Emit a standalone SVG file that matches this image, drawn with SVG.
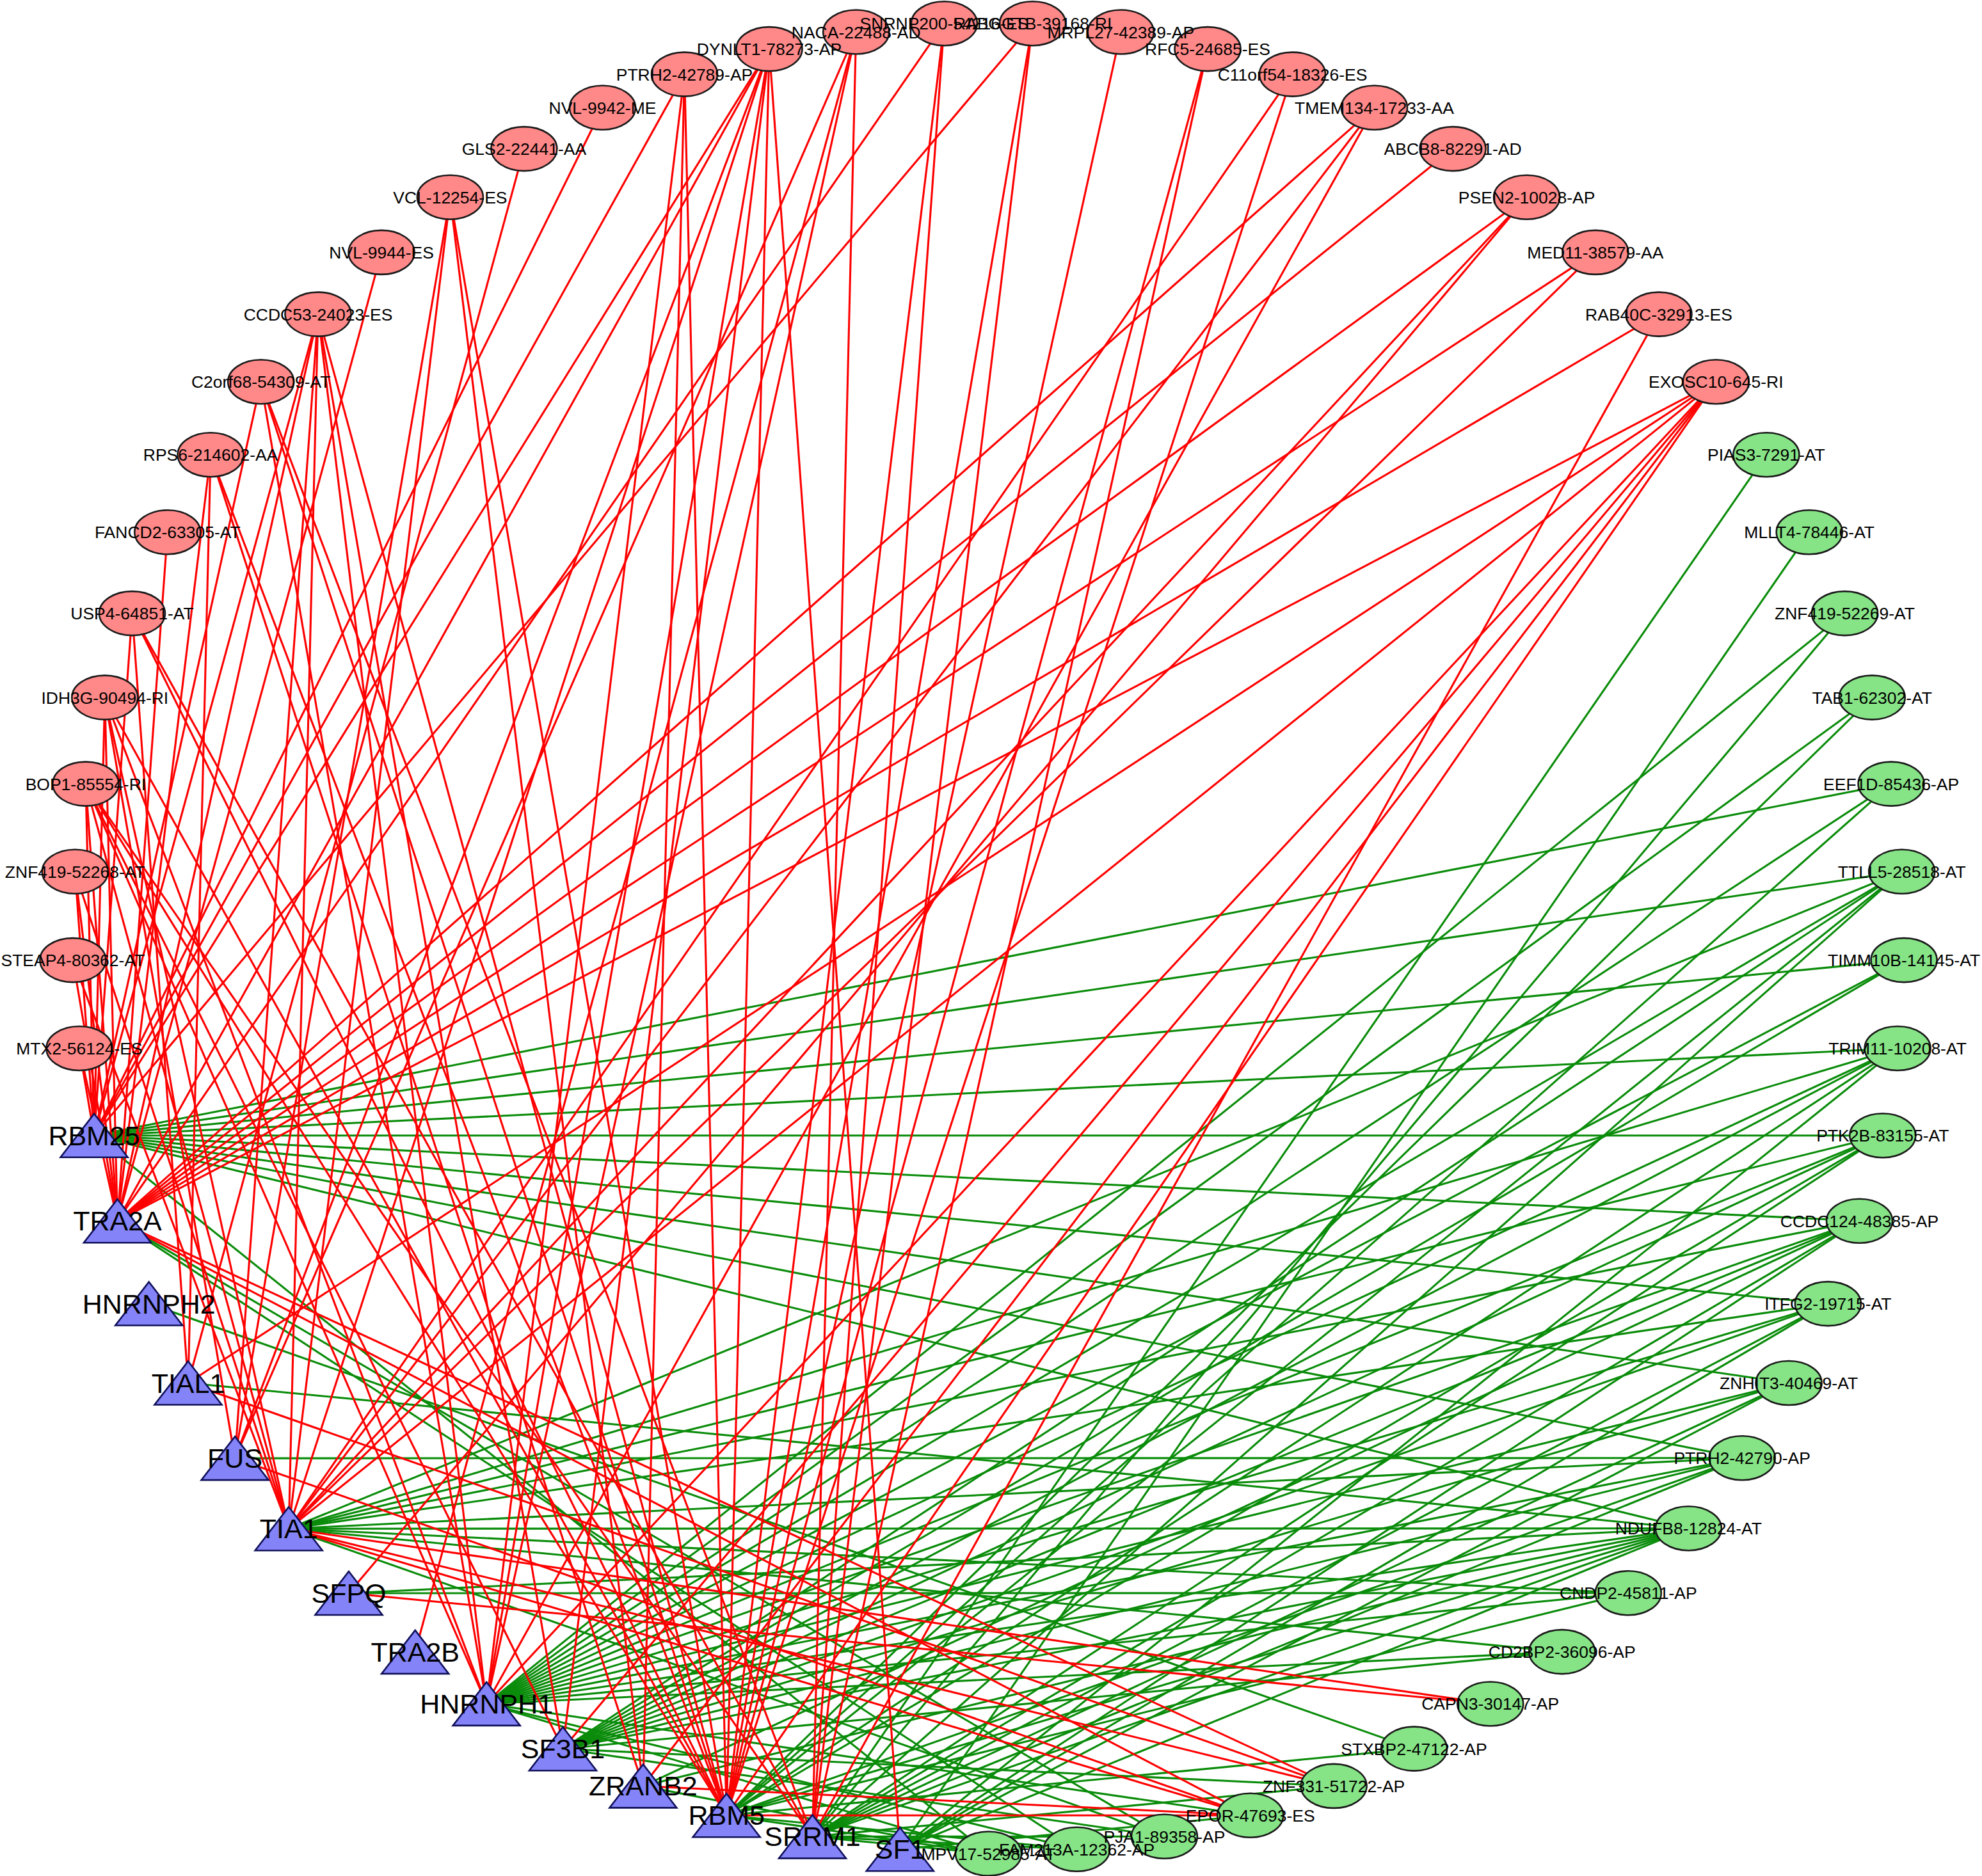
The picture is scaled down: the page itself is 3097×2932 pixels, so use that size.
<svg xmlns="http://www.w3.org/2000/svg" xmlns:xlink="http://www.w3.org/1999/xlink" width="3097" height="2932" viewBox="0 0 3097 2932">
<style>
.r{stroke:#ff0000;stroke-width:3.1;fill:none}
.g{stroke:#0a8c0a;stroke-width:3.1;fill:none}
.er{fill:#ff8888;stroke:#1a1a1a;stroke-width:2.6}
.eg{fill:#86e486;stroke:#1a1a1a;stroke-width:2.6}
.tr{fill:#8484f8;stroke:#10105a;stroke-width:2.6}
.lt{font-family:"Liberation Sans",Arial,sans-serif;font-size:26.5px;fill:#000;text-anchor:middle}
.tt{font-family:"Liberation Sans",Arial,sans-serif;font-size:43px;fill:#000;text-anchor:middle}
</style>
<defs>
<polygon id="tri" points="0,-34 52.5,34 -52.5,34"/>
</defs>
<rect width="3097" height="2932" fill="#fff"/>
<g id="connectors">
<g id="green-edges">
<line class="g" x1="2759.9" y1="710.8" x2="1269.5" y2="2870.4"/>
<line class="g" x1="2827.2" y1="831.8" x2="1406.3" y2="2890.3"/>
<line class="g" x1="2882.5" y1="958.6" x2="760.2" y2="2662.9"/>
<line class="g" x1="2882.5" y1="958.6" x2="1269.5" y2="2870.4"/>
<line class="g" x1="2925.2" y1="1090.1" x2="760.2" y2="2662.9"/>
<line class="g" x1="2925.2" y1="1090.1" x2="1135.2" y2="2837.2"/>
<line class="g" x1="2955.1" y1="1225.1" x2="147.1" y2="1774.7"/>
<line class="g" x1="2955.1" y1="1225.1" x2="760.2" y2="2662.9"/>
<line class="g" x1="2955.1" y1="1225.1" x2="1135.2" y2="2837.2"/>
<line class="g" x1="2971.7" y1="1362.3" x2="147.1" y2="1774.7"/>
<line class="g" x1="2971.7" y1="1362.3" x2="451.2" y2="2389.2"/>
<line class="g" x1="2971.7" y1="1362.3" x2="760.2" y2="2662.9"/>
<line class="g" x1="2971.7" y1="1362.3" x2="879.5" y2="2733.2"/>
<line class="g" x1="2971.7" y1="1362.3" x2="1135.2" y2="2837.2"/>
<line class="g" x1="2971.7" y1="1362.3" x2="1269.5" y2="2870.4"/>
<line class="g" x1="2975.1" y1="1500.6" x2="147.1" y2="1774.7"/>
<line class="g" x1="2975.1" y1="1500.6" x2="760.2" y2="2662.9"/>
<line class="g" x1="2975.1" y1="1500.6" x2="879.5" y2="2733.2"/>
<line class="g" x1="2965.1" y1="1638.5" x2="147.1" y2="1774.7"/>
<line class="g" x1="2965.1" y1="1638.5" x2="451.2" y2="2389.2"/>
<line class="g" x1="2965.1" y1="1638.5" x2="760.2" y2="2662.9"/>
<line class="g" x1="2965.1" y1="1638.5" x2="879.5" y2="2733.2"/>
<line class="g" x1="2965.1" y1="1638.5" x2="1135.2" y2="2837.2"/>
<line class="g" x1="2965.1" y1="1638.5" x2="1406.3" y2="2890.3"/>
<line class="g" x1="2941.8" y1="1774.8" x2="147.1" y2="1774.7"/>
<line class="g" x1="2941.8" y1="1774.8" x2="451.2" y2="2389.2"/>
<line class="g" x1="2941.8" y1="1774.8" x2="760.2" y2="2662.9"/>
<line class="g" x1="2941.8" y1="1774.8" x2="879.5" y2="2733.2"/>
<line class="g" x1="2941.8" y1="1774.8" x2="1135.2" y2="2837.2"/>
<line class="g" x1="2941.8" y1="1774.8" x2="1269.5" y2="2870.4"/>
<line class="g" x1="2905.5" y1="1908.2" x2="147.1" y2="1774.7"/>
<line class="g" x1="2905.5" y1="1908.2" x2="451.2" y2="2389.2"/>
<line class="g" x1="2905.5" y1="1908.2" x2="760.2" y2="2662.9"/>
<line class="g" x1="2905.5" y1="1908.2" x2="879.5" y2="2733.2"/>
<line class="g" x1="2905.5" y1="1908.2" x2="1004.9" y2="2791.4"/>
<line class="g" x1="2905.5" y1="1908.2" x2="1269.5" y2="2870.4"/>
<line class="g" x1="2905.5" y1="1908.2" x2="1406.3" y2="2890.3"/>
<line class="g" x1="2856.4" y1="2037.6" x2="147.1" y2="1774.7"/>
<line class="g" x1="2856.4" y1="2037.6" x2="451.2" y2="2389.2"/>
<line class="g" x1="2856.4" y1="2037.6" x2="760.2" y2="2662.9"/>
<line class="g" x1="2856.4" y1="2037.6" x2="879.5" y2="2733.2"/>
<line class="g" x1="2856.4" y1="2037.6" x2="1269.5" y2="2870.4"/>
<line class="g" x1="2856.4" y1="2037.6" x2="1406.3" y2="2890.3"/>
<line class="g" x1="2795.1" y1="2161.5" x2="147.1" y2="1774.7"/>
<line class="g" x1="2795.1" y1="2161.5" x2="760.2" y2="2662.9"/>
<line class="g" x1="2795.1" y1="2161.5" x2="879.5" y2="2733.2"/>
<line class="g" x1="2795.1" y1="2161.5" x2="1269.5" y2="2870.4"/>
<line class="g" x1="2795.1" y1="2161.5" x2="1406.3" y2="2890.3"/>
<line class="g" x1="2722.2" y1="2278.8" x2="147.1" y2="1774.7"/>
<line class="g" x1="2722.2" y1="2278.8" x2="367.1" y2="2279.1"/>
<line class="g" x1="2722.2" y1="2278.8" x2="451.2" y2="2389.2"/>
<line class="g" x1="2722.2" y1="2278.8" x2="760.2" y2="2662.9"/>
<line class="g" x1="2722.2" y1="2278.8" x2="879.5" y2="2733.2"/>
<line class="g" x1="2722.2" y1="2278.8" x2="1135.2" y2="2837.2"/>
<line class="g" x1="2722.2" y1="2278.8" x2="1269.5" y2="2870.4"/>
<line class="g" x1="2638.4" y1="2388.8" x2="147.1" y2="1774.7"/>
<line class="g" x1="2638.4" y1="2388.8" x2="294" y2="2161.5"/>
<line class="g" x1="2638.4" y1="2388.8" x2="451.2" y2="2389.2"/>
<line class="g" x1="2638.4" y1="2388.8" x2="545" y2="2490"/>
<line class="g" x1="2638.4" y1="2388.8" x2="760.2" y2="2662.9"/>
<line class="g" x1="2638.4" y1="2388.8" x2="879.5" y2="2733.2"/>
<line class="g" x1="2638.4" y1="2388.8" x2="1004.9" y2="2791.4"/>
<line class="g" x1="2638.4" y1="2388.8" x2="1135.2" y2="2837.2"/>
<line class="g" x1="2638.4" y1="2388.8" x2="1269.5" y2="2870.4"/>
<line class="g" x1="2638.4" y1="2388.8" x2="1406.3" y2="2890.3"/>
<line class="g" x1="2544.3" y1="2489.8" x2="451.2" y2="2389.2"/>
<line class="g" x1="2544.3" y1="2489.8" x2="545" y2="2490"/>
<line class="g" x1="2544.3" y1="2489.8" x2="760.2" y2="2662.9"/>
<line class="g" x1="2544.3" y1="2489.8" x2="1135.2" y2="2837.2"/>
<line class="g" x1="2440.7" y1="2581.6" x2="451.2" y2="2389.2"/>
<line class="g" x1="2440.7" y1="2581.6" x2="760.2" y2="2662.9"/>
<line class="g" x1="2440.7" y1="2581.6" x2="879.5" y2="2733.2"/>
<line class="g" x1="2209.5" y1="2733.1" x2="232.7" y2="2037.5"/>
<line class="g" x1="2209.5" y1="2733.1" x2="1135.2" y2="2837.2"/>
<line class="g" x1="2084.1" y1="2791.4" x2="879.5" y2="2733.2"/>
<line class="g" x1="2084.1" y1="2791.4" x2="1269.5" y2="2870.4"/>
<line class="g" x1="1953.7" y1="2837.2" x2="760.2" y2="2662.9"/>
<line class="g" x1="1953.7" y1="2837.2" x2="1406.3" y2="2890.3"/>
<line class="g" x1="1819.4" y1="2870.3" x2="183.5" y2="1908.2"/>
<line class="g" x1="1819.4" y1="2870.3" x2="451.2" y2="2389.2"/>
<line class="g" x1="1819.4" y1="2870.3" x2="879.5" y2="2733.2"/>
<line class="g" x1="1819.4" y1="2870.3" x2="1269.5" y2="2870.4"/>
<line class="g" x1="1682.6" y1="2890.3" x2="183.5" y2="1908.2"/>
<line class="g" x1="1682.6" y1="2890.3" x2="760.2" y2="2662.9"/>
<line class="g" x1="1682.6" y1="2890.3" x2="1135.2" y2="2837.2"/>
<line class="g" x1="1682.6" y1="2890.3" x2="1269.5" y2="2870.4"/>
<line class="g" x1="1544.5" y1="2897" x2="147.1" y2="1774.7"/>
<line class="g" x1="1544.5" y1="2897" x2="760.2" y2="2662.9"/>
<line class="g" x1="1544.5" y1="2897" x2="1004.9" y2="2791.4"/>
<line class="g" x1="1544.5" y1="2897" x2="1135.2" y2="2837.2"/>
<line class="g" x1="1544.5" y1="2897" x2="1269.5" y2="2870.4"/>
</g>
<g id="red-edges">
<line class="r" x1="123.9" y1="1638.5" x2="147.1" y2="1774.7"/>
<line class="r" x1="123.9" y1="1638.5" x2="183.5" y2="1908.2"/>
<line class="r" x1="113.9" y1="1500.6" x2="183.5" y2="1908.2"/>
<line class="r" x1="113.9" y1="1500.6" x2="451.2" y2="2389.2"/>
<line class="r" x1="117.3" y1="1362.3" x2="147.1" y2="1774.7"/>
<line class="r" x1="117.3" y1="1362.3" x2="183.5" y2="1908.2"/>
<line class="r" x1="117.3" y1="1362.3" x2="451.2" y2="2389.2"/>
<line class="r" x1="133.9" y1="1225.1" x2="147.1" y2="1774.7"/>
<line class="r" x1="133.9" y1="1225.1" x2="183.5" y2="1908.2"/>
<line class="r" x1="133.9" y1="1225.1" x2="451.2" y2="2389.2"/>
<line class="r" x1="133.9" y1="1225.1" x2="760.2" y2="2662.9"/>
<line class="r" x1="133.9" y1="1225.1" x2="879.5" y2="2733.2"/>
<line class="r" x1="133.9" y1="1225.1" x2="1135.2" y2="2837.2"/>
<line class="r" x1="133.9" y1="1225.1" x2="1269.5" y2="2870.4"/>
<line class="r" x1="163.8" y1="1090.1" x2="147.1" y2="1774.7"/>
<line class="r" x1="163.8" y1="1090.1" x2="183.5" y2="1908.2"/>
<line class="r" x1="163.8" y1="1090.1" x2="367.1" y2="2279.1"/>
<line class="r" x1="163.8" y1="1090.1" x2="451.2" y2="2389.2"/>
<line class="r" x1="163.8" y1="1090.1" x2="760.2" y2="2662.9"/>
<line class="r" x1="163.8" y1="1090.1" x2="1135.2" y2="2837.2"/>
<line class="r" x1="206.5" y1="958.6" x2="147.1" y2="1774.7"/>
<line class="r" x1="206.5" y1="958.6" x2="294" y2="2161.5"/>
<line class="r" x1="206.5" y1="958.6" x2="1135.2" y2="2837.2"/>
<line class="r" x1="206.5" y1="958.6" x2="1269.5" y2="2870.4"/>
<line class="r" x1="261.8" y1="831.8" x2="183.5" y2="1908.2"/>
<line class="r" x1="329.1" y1="710.8" x2="183.5" y2="1908.2"/>
<line class="r" x1="329.1" y1="710.8" x2="294" y2="2161.5"/>
<line class="r" x1="329.1" y1="710.8" x2="1004.9" y2="2791.4"/>
<line class="r" x1="329.1" y1="710.8" x2="1135.2" y2="2837.2"/>
<line class="r" x1="407.7" y1="596.8" x2="147.1" y2="1774.7"/>
<line class="r" x1="407.7" y1="596.8" x2="760.2" y2="2662.9"/>
<line class="r" x1="407.7" y1="596.8" x2="1135.2" y2="2837.2"/>
<line class="r" x1="407.7" y1="596.8" x2="1269.5" y2="2870.4"/>
<line class="r" x1="497" y1="491.1" x2="147.1" y2="1774.7"/>
<line class="r" x1="497" y1="491.1" x2="183.5" y2="1908.2"/>
<line class="r" x1="497" y1="491.1" x2="367.1" y2="2279.1"/>
<line class="r" x1="497" y1="491.1" x2="451.2" y2="2389.2"/>
<line class="r" x1="497" y1="491.1" x2="760.2" y2="2662.9"/>
<line class="r" x1="497" y1="491.1" x2="879.5" y2="2733.2"/>
<line class="r" x1="497" y1="491.1" x2="1135.2" y2="2837.2"/>
<line class="r" x1="596.1" y1="394.4" x2="183.5" y2="1908.2"/>
<line class="r" x1="703.4" y1="308.3" x2="367.1" y2="2279.1"/>
<line class="r" x1="703.4" y1="308.3" x2="451.2" y2="2389.2"/>
<line class="r" x1="703.4" y1="308.3" x2="1004.9" y2="2791.4"/>
<line class="r" x1="703.4" y1="308.3" x2="1135.2" y2="2837.2"/>
<line class="r" x1="818.9" y1="232.6" x2="294" y2="2161.5"/>
<line class="r" x1="941.5" y1="168.3" x2="147.1" y2="1774.7"/>
<line class="r" x1="1069.5" y1="116.1" x2="147.1" y2="1774.7"/>
<line class="r" x1="1069.5" y1="116.1" x2="760.2" y2="2662.9"/>
<line class="r" x1="1069.5" y1="116.1" x2="1004.9" y2="2791.4"/>
<line class="r" x1="1069.5" y1="116.1" x2="1135.2" y2="2837.2"/>
<line class="r" x1="1202" y1="76.6" x2="147.1" y2="1774.7"/>
<line class="r" x1="1202" y1="76.6" x2="183.5" y2="1908.2"/>
<line class="r" x1="1202" y1="76.6" x2="367.1" y2="2279.1"/>
<line class="r" x1="1202" y1="76.6" x2="451.2" y2="2389.2"/>
<line class="r" x1="1202" y1="76.6" x2="760.2" y2="2662.9"/>
<line class="r" x1="1202" y1="76.6" x2="879.5" y2="2733.2"/>
<line class="r" x1="1202" y1="76.6" x2="1135.2" y2="2837.2"/>
<line class="r" x1="1202" y1="76.6" x2="1406.3" y2="2890.3"/>
<line class="r" x1="1337.7" y1="50" x2="367.1" y2="2279.1"/>
<line class="r" x1="1337.7" y1="50" x2="648.7" y2="2581.9"/>
<line class="r" x1="1337.7" y1="50" x2="760.2" y2="2662.9"/>
<line class="r" x1="1337.7" y1="50" x2="1269.5" y2="2870.4"/>
<line class="r" x1="1475.4" y1="36.7" x2="183.5" y2="1908.2"/>
<line class="r" x1="1475.4" y1="36.7" x2="1135.2" y2="2837.2"/>
<line class="r" x1="1475.4" y1="36.7" x2="1269.5" y2="2870.4"/>
<line class="r" x1="1613.6" y1="36.7" x2="147.1" y2="1774.7"/>
<line class="r" x1="1613.6" y1="36.7" x2="1135.2" y2="2837.2"/>
<line class="r" x1="1613.6" y1="36.7" x2="1269.5" y2="2870.4"/>
<line class="r" x1="1751.3" y1="50" x2="1135.2" y2="2837.2"/>
<line class="r" x1="1887" y1="76.6" x2="1135.2" y2="2837.2"/>
<line class="r" x1="1887" y1="76.6" x2="1269.5" y2="2870.4"/>
<line class="r" x1="2019.5" y1="116.1" x2="451.2" y2="2389.2"/>
<line class="r" x1="2019.5" y1="116.1" x2="1135.2" y2="2837.2"/>
<line class="r" x1="2147.5" y1="168.3" x2="183.5" y2="1908.2"/>
<line class="r" x1="2147.5" y1="168.3" x2="451.2" y2="2389.2"/>
<line class="r" x1="2147.5" y1="168.3" x2="760.2" y2="2662.9"/>
<line class="r" x1="2270.1" y1="232.6" x2="183.5" y2="1908.2"/>
<line class="r" x1="2385.6" y1="308.3" x2="183.5" y2="1908.2"/>
<line class="r" x1="2385.6" y1="308.3" x2="451.2" y2="2389.2"/>
<line class="r" x1="2385.6" y1="308.3" x2="545" y2="2490"/>
<line class="r" x1="2492.9" y1="394.4" x2="183.5" y2="1908.2"/>
<line class="r" x1="2492.9" y1="394.4" x2="451.2" y2="2389.2"/>
<line class="r" x1="2592" y1="491.1" x2="183.5" y2="1908.2"/>
<line class="r" x1="2592" y1="491.1" x2="1269.5" y2="2870.4"/>
<line class="r" x1="2681.3" y1="596.8" x2="183.5" y2="1908.2"/>
<line class="r" x1="2681.3" y1="596.8" x2="294" y2="2161.5"/>
<line class="r" x1="2681.3" y1="596.8" x2="451.2" y2="2389.2"/>
<line class="r" x1="2681.3" y1="596.8" x2="760.2" y2="2662.9"/>
<line class="r" x1="2681.3" y1="596.8" x2="879.5" y2="2733.2"/>
<line class="r" x1="2681.3" y1="596.8" x2="1004.9" y2="2791.4"/>
<line class="r" x1="2681.3" y1="596.8" x2="1135.2" y2="2837.2"/>
<line class="r" x1="2328.7" y1="2663" x2="451.2" y2="2389.2"/>
<line class="r" x1="2328.7" y1="2663" x2="545" y2="2490"/>
<line class="r" x1="2084.1" y1="2791.4" x2="183.5" y2="1908.2"/>
<line class="r" x1="2084.1" y1="2791.4" x2="294" y2="2161.5"/>
<line class="r" x1="2084.1" y1="2791.4" x2="451.2" y2="2389.2"/>
<line class="r" x1="1953.7" y1="2837.2" x2="183.5" y2="1908.2"/>
<line class="r" x1="1953.7" y1="2837.2" x2="367.1" y2="2279.1"/>
<line class="r" x1="1953.7" y1="2837.2" x2="451.2" y2="2389.2"/>
<line class="r" x1="1953.7" y1="2837.2" x2="1004.9" y2="2791.4"/>
<line class="r" x1="1953.7" y1="2837.2" x2="1135.2" y2="2837.2"/>
</g>
</g>
<g id="nodes">
<g id="n-MTX2"><ellipse class="er" cx="123.9" cy="1638.5" rx="51.5" ry="34.5"/></g>
<g id="n-STEAP4"><ellipse class="er" cx="113.9" cy="1500.6" rx="51.5" ry="34.5"/></g>
<g id="n-ZNF419-52268"><ellipse class="er" cx="117.3" cy="1362.3" rx="51.5" ry="34.5"/></g>
<g id="n-BOP1"><ellipse class="er" cx="133.9" cy="1225.1" rx="51.5" ry="34.5"/></g>
<g id="n-IDH3G"><ellipse class="er" cx="163.8" cy="1090.1" rx="51.5" ry="34.5"/></g>
<g id="n-USP4"><ellipse class="er" cx="206.5" cy="958.6" rx="51.5" ry="34.5"/></g>
<g id="n-FANCD2"><ellipse class="er" cx="261.8" cy="831.8" rx="51.5" ry="34.5"/></g>
<g id="n-RPS6"><ellipse class="er" cx="329.1" cy="710.8" rx="51.5" ry="34.5"/></g>
<g id="n-C2orf68"><ellipse class="er" cx="407.7" cy="596.8" rx="51.5" ry="34.5"/></g>
<g id="n-CCDC53"><ellipse class="er" cx="497" cy="491.1" rx="51.5" ry="34.5"/></g>
<g id="n-NVL-9944"><ellipse class="er" cx="596.1" cy="394.4" rx="51.5" ry="34.5"/></g>
<g id="n-VCL"><ellipse class="er" cx="703.4" cy="308.3" rx="51.5" ry="34.5"/></g>
<g id="n-GLS2"><ellipse class="er" cx="818.9" cy="232.6" rx="51.5" ry="34.5"/></g>
<g id="n-NVL-9942"><ellipse class="er" cx="941.5" cy="168.3" rx="51.5" ry="34.5"/></g>
<g id="n-PTRH2-42789"><ellipse class="er" cx="1069.5" cy="116.1" rx="51.5" ry="34.5"/></g>
<g id="n-DYNLT1"><ellipse class="er" cx="1202" cy="76.6" rx="51.5" ry="34.5"/></g>
<g id="n-NACA"><ellipse class="er" cx="1337.7" cy="50" rx="51.5" ry="34.5"/></g>
<g id="n-SNRNP200"><ellipse class="er" cx="1475.4" cy="36.7" rx="51.5" ry="34.5"/></g>
<g id="n-RABGGTB"><ellipse class="er" cx="1613.6" cy="36.7" rx="51.5" ry="34.5"/></g>
<g id="n-MRPL27"><ellipse class="er" cx="1751.3" cy="50" rx="51.5" ry="34.5"/></g>
<g id="n-RFC5"><ellipse class="er" cx="1887" cy="76.6" rx="51.5" ry="34.5"/></g>
<g id="n-C11orf54"><ellipse class="er" cx="2019.5" cy="116.1" rx="51.5" ry="34.5"/></g>
<g id="n-TMEM134"><ellipse class="er" cx="2147.5" cy="168.3" rx="51.5" ry="34.5"/></g>
<g id="n-ABCB8"><ellipse class="er" cx="2270.1" cy="232.6" rx="51.5" ry="34.5"/></g>
<g id="n-PSEN2"><ellipse class="er" cx="2385.6" cy="308.3" rx="51.5" ry="34.5"/></g>
<g id="n-MED11"><ellipse class="er" cx="2492.9" cy="394.4" rx="51.5" ry="34.5"/></g>
<g id="n-RAB40C"><ellipse class="er" cx="2592" cy="491.1" rx="51.5" ry="34.5"/></g>
<g id="n-EXOSC10"><ellipse class="er" cx="2681.3" cy="596.8" rx="51.5" ry="34.5"/></g>
<g id="n-PIAS3"><ellipse class="eg" cx="2759.9" cy="710.8" rx="51.5" ry="34.5"/></g>
<g id="n-MLLT4"><ellipse class="eg" cx="2827.2" cy="831.8" rx="51.5" ry="34.5"/></g>
<g id="n-ZNF419-52269"><ellipse class="eg" cx="2882.5" cy="958.6" rx="51.5" ry="34.5"/></g>
<g id="n-TAB1"><ellipse class="eg" cx="2925.2" cy="1090.1" rx="51.5" ry="34.5"/></g>
<g id="n-EEF1D"><ellipse class="eg" cx="2955.1" cy="1225.1" rx="51.5" ry="34.5"/></g>
<g id="n-TTLL5"><ellipse class="eg" cx="2971.7" cy="1362.3" rx="51.5" ry="34.5"/></g>
<g id="n-TIMM10B"><ellipse class="eg" cx="2975.1" cy="1500.6" rx="51.5" ry="34.5"/></g>
<g id="n-TRIM11"><ellipse class="eg" cx="2965.1" cy="1638.5" rx="51.5" ry="34.5"/></g>
<g id="n-PTK2B"><ellipse class="eg" cx="2941.8" cy="1774.8" rx="51.5" ry="34.5"/></g>
<g id="n-CCDC124"><ellipse class="eg" cx="2905.5" cy="1908.2" rx="51.5" ry="34.5"/></g>
<g id="n-ITFG2"><ellipse class="eg" cx="2856.4" cy="2037.6" rx="51.5" ry="34.5"/></g>
<g id="n-ZNHIT3"><ellipse class="eg" cx="2795.1" cy="2161.5" rx="51.5" ry="34.5"/></g>
<g id="n-PTRH2-42790"><ellipse class="eg" cx="2722.2" cy="2278.8" rx="51.5" ry="34.5"/></g>
<g id="n-NDUFB8"><ellipse class="eg" cx="2638.4" cy="2388.8" rx="51.5" ry="34.5"/></g>
<g id="n-CNDP2"><ellipse class="eg" cx="2544.3" cy="2489.8" rx="51.5" ry="34.5"/></g>
<g id="n-CD2BP2"><ellipse class="eg" cx="2440.7" cy="2581.6" rx="51.5" ry="34.5"/></g>
<g id="n-CAPN3"><ellipse class="eg" cx="2328.7" cy="2663" rx="51.5" ry="34.5"/></g>
<g id="n-STXBP2"><ellipse class="eg" cx="2209.5" cy="2733.1" rx="51.5" ry="34.5"/></g>
<g id="n-ZNF331"><ellipse class="eg" cx="2084.1" cy="2791.4" rx="51.5" ry="34.5"/></g>
<g id="n-EPOR"><ellipse class="eg" cx="1953.7" cy="2837.2" rx="51.5" ry="34.5"/></g>
<g id="n-PJA1"><ellipse class="eg" cx="1819.4" cy="2870.3" rx="51.5" ry="34.5"/></g>
<g id="n-FAM213A"><ellipse class="eg" cx="1682.6" cy="2890.3" rx="51.5" ry="34.5"/></g>
<g id="n-MPV17"><ellipse class="eg" cx="1544.5" cy="2897" rx="51.5" ry="34.5"/></g>
<g id="n-SF1"><use xlink:href="#tri" class="tr" x="1406.3" y="2890.3"/></g>
<g id="n-SRRM1"><use xlink:href="#tri" class="tr" x="1269.5" y="2870.4"/></g>
<g id="n-RBM5"><use xlink:href="#tri" class="tr" x="1135.2" y="2837.2"/></g>
<g id="n-ZRANB2"><use xlink:href="#tri" class="tr" x="1004.9" y="2791.4"/></g>
<g id="n-SF3B1"><use xlink:href="#tri" class="tr" x="879.5" y="2733.2"/></g>
<g id="n-HNRNPH1"><use xlink:href="#tri" class="tr" x="760.2" y="2662.9"/></g>
<g id="n-TRA2B"><use xlink:href="#tri" class="tr" x="648.7" y="2581.9"/></g>
<g id="n-SFPQ"><use xlink:href="#tri" class="tr" x="545" y="2490"/></g>
<g id="n-TIA1"><use xlink:href="#tri" class="tr" x="451.2" y="2389.2"/></g>
<g id="n-FUS"><use xlink:href="#tri" class="tr" x="367.1" y="2279.1"/></g>
<g id="n-TIAL1"><use xlink:href="#tri" class="tr" x="294" y="2161.5"/></g>
<g id="n-HNRNPH2"><use xlink:href="#tri" class="tr" x="232.7" y="2037.5"/></g>
<g id="n-TRA2A"><use xlink:href="#tri" class="tr" x="183.5" y="1908.2"/></g>
<g id="n-RBM25"><use xlink:href="#tri" class="tr" x="147.1" y="1774.7"/></g>
</g>
<g id="labels">
<text class="lt" x="123.9" y="1648">MTX2-56124-ES</text>
<text class="lt" x="113.9" y="1510">STEAP4-80362-AT</text>
<text class="lt" x="117.3" y="1372">ZNF419-52268-AT</text>
<text class="lt" x="133.9" y="1235">BOP1-85554-RI</text>
<text class="lt" x="163.8" y="1100">IDH3G-90494-RI</text>
<text class="lt" x="206.5" y="968">USP4-64851-AT</text>
<text class="lt" x="261.8" y="841">FANCD2-63305-AT</text>
<text class="lt" x="329.1" y="720">RPS6-214602-AA</text>
<text class="lt" x="407.7" y="606">C2orf68-54309-AT</text>
<text class="lt" x="497" y="501">CCDC53-24023-ES</text>
<text class="lt" x="596.1" y="404">NVL-9944-ES</text>
<text class="lt" x="703.4" y="318">VCL-12254-ES</text>
<text class="lt" x="818.9" y="242">GLS2-22441-AA</text>
<text class="lt" x="941.5" y="178">NVL-9942-ME</text>
<text class="lt" x="1069.5" y="126">PTRH2-42789-AP</text>
<text class="lt" x="1202" y="86">DYNLT1-78273-AP</text>
<text class="lt" x="1337.7" y="60">NACA-22488-AD</text>
<text class="lt" x="1475.4" y="46">SNRNP200-54216-ES</text>
<text class="lt" x="1613.6" y="46">RABGGTB-39168-RI</text>
<text class="lt" x="1751.3" y="60">MRPL27-42389-AP</text>
<text class="lt" x="1887" y="86">RFC5-24685-ES</text>
<text class="lt" x="2019.5" y="126">C11orf54-18326-ES</text>
<text class="lt" x="2147.5" y="178">TMEM134-17233-AA</text>
<text class="lt" x="2270.1" y="242">ABCB8-82291-AD</text>
<text class="lt" x="2385.6" y="318">PSEN2-10028-AP</text>
<text class="lt" x="2492.9" y="404">MED11-38579-AA</text>
<text class="lt" x="2592" y="501">RAB40C-32913-ES</text>
<text class="lt" x="2681.3" y="606">EXOSC10-645-RI</text>
<text class="lt" x="2759.9" y="720">PIAS3-7291-AT</text>
<text class="lt" x="2827.2" y="841">MLLT4-78446-AT</text>
<text class="lt" x="2882.5" y="968">ZNF419-52269-AT</text>
<text class="lt" x="2925.2" y="1100">TAB1-62302-AT</text>
<text class="lt" x="2955.1" y="1235">EEF1D-85436-AP</text>
<text class="lt" x="2971.7" y="1372">TTLL5-28518-AT</text>
<text class="lt" x="2975.1" y="1510">TIMM10B-14145-AT</text>
<text class="lt" x="2965.1" y="1648">TRIM11-10208-AT</text>
<text class="lt" x="2941.8" y="1784">PTK2B-83155-AT</text>
<text class="lt" x="2905.5" y="1918">CCDC124-48385-AP</text>
<text class="lt" x="2856.4" y="2047">ITFG2-19715-AT</text>
<text class="lt" x="2795.1" y="2171">ZNHIT3-40469-AT</text>
<text class="lt" x="2722.2" y="2288">PTRH2-42790-AP</text>
<text class="lt" x="2638.4" y="2398">NDUFB8-12824-AT</text>
<text class="lt" x="2544.3" y="2499">CNDP2-45811-AP</text>
<text class="lt" x="2440.7" y="2591">CD2BP2-36096-AP</text>
<text class="lt" x="2328.7" y="2672">CAPN3-30147-AP</text>
<text class="lt" x="2209.5" y="2743">STXBP2-47122-AP</text>
<text class="lt" x="2084.1" y="2801">ZNF331-51722-AP</text>
<text class="lt" x="1953.7" y="2847">EPOR-47693-ES</text>
<text class="lt" x="1819.4" y="2880">PJA1-89358-AP</text>
<text class="lt" x="1682.6" y="2900">FAM213A-12362-AP</text>
<text class="lt" x="1544.5" y="2907">MPV17-52985-AT</text>
<text class="tt" x="1406.3" y="2905">SF1</text>
<text class="tt" x="1269.5" y="2885">SRRM1</text>
<text class="tt" x="1135.2" y="2852">RBM5</text>
<text class="tt" x="1004.9" y="2806">ZRANB2</text>
<text class="tt" x="879.5" y="2748">SF3B1</text>
<text class="tt" x="760.2" y="2678">HNRNPH1</text>
<text class="tt" x="648.7" y="2597">TRA2B</text>
<text class="tt" x="545" y="2505">SFPQ</text>
<text class="tt" x="451.2" y="2404">TIA1</text>
<text class="tt" x="367.1" y="2294">FUS</text>
<text class="tt" x="294" y="2177">TIAL1</text>
<text class="tt" x="232.7" y="2053">HNRNPH2</text>
<text class="tt" x="183.5" y="1923">TRA2A</text>
<text class="tt" x="147.1" y="1790">RBM25</text>
</g>
</svg>
